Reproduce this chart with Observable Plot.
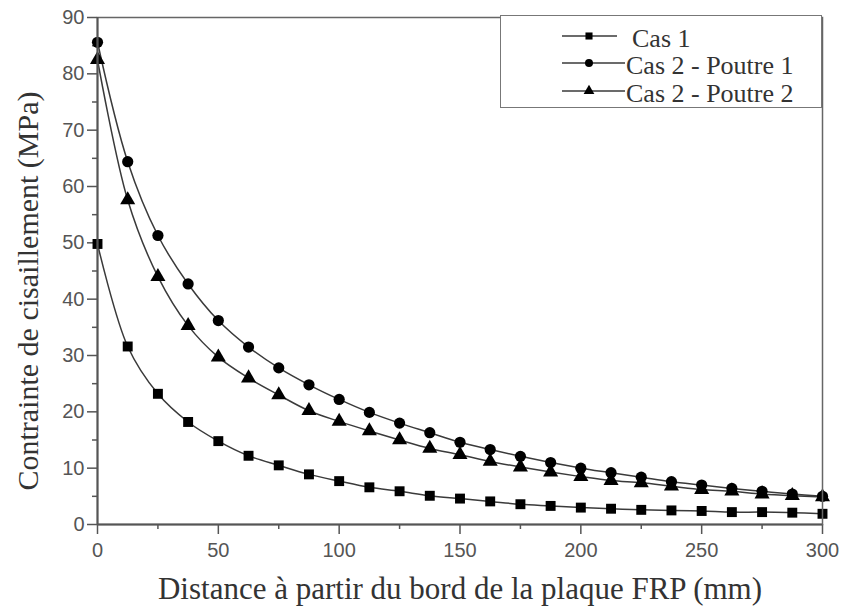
<!DOCTYPE html>
<html>
<head>
<meta charset="utf-8">
<script src="https://cdn.jsdelivr.net/npm/d3@7"></script>
<script src="https://cdn.jsdelivr.net/npm/@observablehq/plot@0.6"></script>
<style>
  html, body { margin: 0; padding: 0; background: #fff; }
  #wrap { position: relative; width: 844px; height: 612px; }
  #legend { position: absolute; left: 500px; top: 15px; width: 322px; height: 93px;
            border: 1.5px solid #777; background: #fff; box-sizing: border-box; }
</style>
</head>
<body>
<div id="wrap"><div id="chart"></div><svg id="legend"></svg></div>
<script>
const distance = [0, 12.5, 25, 37.5, 50, 62.5, 75, 87.5, 100, 112.5, 125, 137.5, 150, 162.5, 175, 187.5, 200, 212.5, 225, 237.5, 250, 262.5, 275, 287.5, 300];
const cas1    = [49.8, 31.6, 23.2, 18.2, 14.8, 12.2, 10.5, 8.9, 7.7, 6.6, 5.9, 5.1, 4.6, 4.1, 3.6, 3.3, 3.0, 2.8, 2.6, 2.5, 2.4, 2.2, 2.2, 2.1, 1.9];
const poutre1 = [85.6, 64.4, 51.3, 42.7, 36.2, 31.5, 27.8, 24.8, 22.2, 19.9, 18.0, 16.3, 14.6, 13.3, 12.1, 11.0, 10.0, 9.2, 8.4, 7.6, 7.0, 6.4, 5.9, 5.4, 5.0];
const poutre2 = [82.5, 57.6, 44.0, 35.3, 29.7, 26.0, 23.0, 20.2, 18.3, 16.6, 15.0, 13.5, 12.4, 11.2, 10.2, 9.3, 8.5, 7.8, 7.4, 6.8, 6.2, 5.9, 5.4, 5.1, 4.9];
const seriesNames = ["Cas 1", "Cas 2 - Poutre 1", "Cas 2 - Poutre 2"];
const seriesSymbols = ["square", "circle", "triangle"];
const xTicks = [0, 50, 100, 150, 200, 250, 300];
const xMinor = [25, 75, 125, 175, 225, 275];
const yTicks = [0, 10, 20, 30, 40, 50, 60, 70, 80, 90];
const yMinor = [5, 15, 25, 35, 45, 55, 65, 75, 85];
const xLabel = "Distance à partir du bord de la plaque FRP (mm)";
const yLabel = "Contrainte de cisaillement (MPa)";

const seriesValues = [cas1, poutre1, poutre2];
const data = [];
seriesNames.forEach((s, i) => distance.forEach((d, j) => data.push({series: s, x: d, y: seriesValues[i][j]})));

const serif = "'Liberation Serif', 'Times New Roman', serif";
const sans = "'Liberation Sans', Arial, sans-serif";

const chart = Plot.plot({
  width: 844, height: 612,
  marginLeft: 97, marginRight: 22, marginTop: 17, marginBottom: 88,
  style: {fontFamily: sans, fontSize: "20px", color: "#555", background: "#fff"},
  x: {domain: [0, 300]},
  y: {domain: [0, 90]},
  symbol: {domain: seriesNames, range: seriesSymbols},
  marks: [
    Plot.axisY({ticks: yTicks, tickSize: 10, tickPadding: 3, label: null, stroke: "#555", strokeWidth: 1.5, fill: "#555", fontSize: 20}),
    Plot.axisY({ticks: yMinor, tickSize: 5, text: null, label: null, stroke: "#555", strokeWidth: 1.5}),
    Plot.axisX({ticks: xTicks, tickSize: 10, tickPadding: 8, label: null, stroke: "#555", strokeWidth: 1.5, fill: "#555", fontSize: 20}),
    Plot.axisX({ticks: xMinor, tickSize: 5, text: null, label: null, stroke: "#555", strokeWidth: 1.5}),
    Plot.line(data, {x: "x", y: "y", z: "series", curve: "catmull-rom", stroke: "#3a3a3a", strokeWidth: 1.5}),
    Plot.dot(data, {x: "x", y: "y", symbol: "series", fill: "#000", stroke: "none", r: 5.6}),
    Plot.frame({stroke: "#666", strokeWidth: 1.5}),
    Plot.ruleX([0], {stroke: "#555", strokeWidth: 2}),
    Plot.ruleY([0], {stroke: "#555", strokeWidth: 2}),
    Plot.text([xLabel], {text: d => d, frameAnchor: "bottom", textAnchor: "middle", dy: 74, fontFamily: serif, fontSize: 31, fill: "#333"}),
    Plot.text([yLabel], {text: d => d, frameAnchor: "left", textAnchor: "middle", dx: -69, dy: 20, rotate: -90, fontFamily: serif, fontSize: 30, fill: "#333"})
  ]
});
document.getElementById("chart").appendChild(chart);

// legend
const lg = d3.select("#legend");
const rowY = [20, 47, 75];
const lineEnd = [116, 124, 124];
seriesNames.forEach((s, i) => {
  const g = lg.append("g").attr("transform", `translate(0,${rowY[i]})`);
  g.append("line").attr("x1", 61).attr("x2", lineEnd[i]).attr("y1", 0).attr("y2", 0)
    .attr("stroke", "#3a3a3a").attr("stroke-width", 1.5);
  const sym = {square: d3.symbolSquare, circle: d3.symbolCircle, triangle: d3.symbolTriangle}[seriesSymbols[i]];
  g.append("path").attr("d", d3.symbol(sym, 50)()).attr("transform", "translate(88,0)").attr("fill", "#000");
  g.append("text").attr("x", lineEnd[i] + (i === 0 ? 15 : 1)).attr("y", 2).attr("dy", "0.35em")
    .style("font-family", serif).attr("font-size", 26).attr("fill", "#333").text(s);
});
</script>
</body>
</html>
